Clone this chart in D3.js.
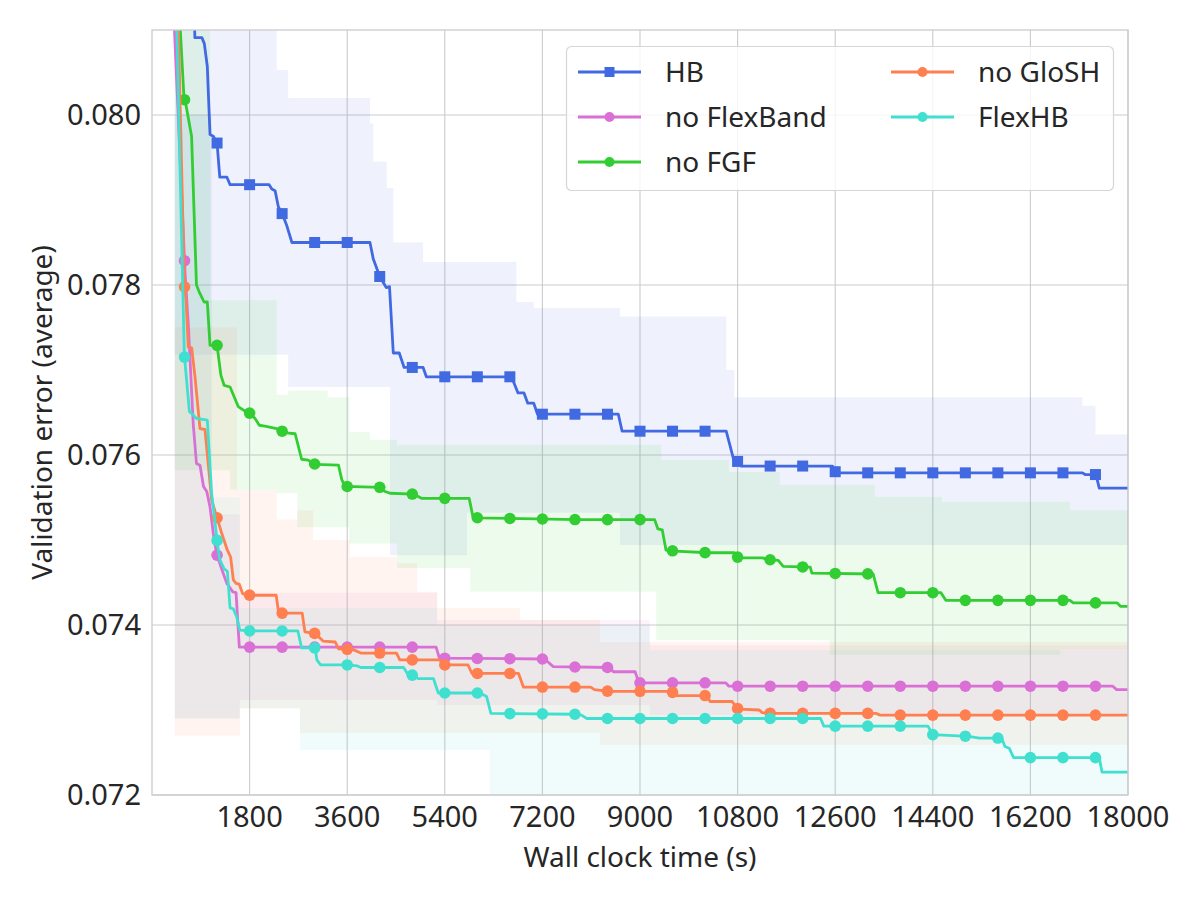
<!DOCTYPE html>
<html>
<head>
<meta charset="utf-8">
<script src="https://cdn.jsdelivr.net/npm/d3@7"></script>
<style>
  body { margin: 0; background: #fff; }
  text { font-family: 'Noto Sans', 'Liberation Sans', sans-serif; fill: #262626; }
</style>
</head>
<body>
<div id="chart"></div>
<script>
/* series names, colours and marker shapes, in legend order */
const seriesNames = ['HB', 'no FlexBand', 'no FGF', 'no GloSH', 'FlexHB'];
const seriesColors = ['#4169E1', '#DA70D6', '#32CD32', '#FF7F50', '#40E0D0'];
const seriesShapes = ['square', 'circle', 'circle', 'circle', 'circle'];

/* axis ticks */
const xTicks = [1800, 3600, 5400, 7200, 9000, 10800, 12600, 14400, 16200, 18000];
const yTicks = [0.072, 0.074, 0.076, 0.078, 0.080];

/* times (s) where markers are drawn */
const markTimes = [600, 1200, 1800, 2400, 3000, 3600, 4200, 4800, 5400, 6000, 6600, 7200, 7800, 8400, 9000,
  9600, 10200, 10800, 11400, 12000, 12600, 13200, 13800, 14400, 15000, 15600, 16200, 16800, 17400];

/* mean validation error curves: [time, value] */
const hbLine = [[700, 0.0840], [790, 0.08091], [920, 0.08091], [965, 0.08084], [1020, 0.08057], [1070, 0.07977],
  [1130, 0.07975], [1200, 0.07967], [1250, 0.07927], [1380, 0.07927], [1440, 0.07918], [2160, 0.07918],
  [2210, 0.07913], [2270, 0.07911], [2330, 0.07892], [2400, 0.07884], [2480, 0.07871], [2580, 0.07850],
  [4020, 0.07850], [4080, 0.07831], [4200, 0.07810], [4320, 0.07797], [4380, 0.07798], [4450, 0.07720],
  [4560, 0.07720], [4650, 0.07703], [5000, 0.07703], [5060, 0.07692], [6630, 0.07692], [6750, 0.07673],
  [6860, 0.07673], [6930, 0.07661], [7040, 0.07661], [7110, 0.07648], [8600, 0.07648], [8670, 0.07628],
  [10590, 0.07628], [10730, 0.07594], [10820, 0.07592], [10860, 0.07587], [12550, 0.07587], [12610, 0.07579],
  [17160, 0.07579], [17210, 0.07577], [17410, 0.07577], [17470, 0.07561], [18000, 0.07561]];

const flexBandLine = [[380, 0.0815], [610, 0.07814], [670, 0.07753], [760, 0.07637], [820, 0.07590], [885, 0.07588],
  [950, 0.07563], [1010, 0.07557], [1070, 0.07539], [1130, 0.07508], [1190, 0.07484], [1290, 0.07465],
  [1380, 0.07449], [1490, 0.07439], [1550, 0.07438], [1610, 0.07374], [5240, 0.07374], [5300, 0.07361],
  [7240, 0.07360], [7400, 0.07351], [8440, 0.07350], [8510, 0.07345], [8910, 0.07345], [8980, 0.07332],
  [10580, 0.07332], [10640, 0.07328], [17720, 0.07328], [17790, 0.07324], [18000, 0.07324]];

const fgfLine = [[480, 0.0815], [590, 0.08020], [620, 0.08014], [730, 0.07975], [820, 0.07800], [870, 0.07792],
  [960, 0.07780], [1020, 0.07780], [1070, 0.07729], [1200, 0.07729], [1270, 0.07694], [1330, 0.07682],
  [1440, 0.07680], [1590, 0.07657], [1680, 0.07653], [1810, 0.07649], [1900, 0.07643], [1980, 0.07635],
  [2080, 0.07634], [2300, 0.07631], [2400, 0.07628], [2480, 0.07626], [2640, 0.07625], [2760, 0.07595],
  [2880, 0.07594], [3010, 0.07589], [3440, 0.07588], [3500, 0.07571], [3560, 0.07563], [4200, 0.07562],
  [4300, 0.07557], [4390, 0.07555], [4820, 0.07554], [4970, 0.07549], [5850, 0.07549], [5920, 0.07527],
  [6020, 0.07526], [7830, 0.07524], [9270, 0.07524], [9330, 0.07513], [9410, 0.07512], [9480, 0.07488],
  [9650, 0.07487], [10250, 0.07485], [10740, 0.07485], [10810, 0.07479], [11260, 0.07479], [11360, 0.07477],
  [11550, 0.07476], [11640, 0.07469], [12140, 0.07468], [12170, 0.07461], [13300, 0.07460], [13390, 0.07438],
  [14550, 0.07438], [14640, 0.07429], [16930, 0.07429], [16990, 0.07426], [17800, 0.07426], [17860, 0.07422],
  [18000, 0.07422]];

const gloshLine = [[470, 0.0815], [596, 0.07800], [627, 0.07782], [670, 0.07727], [732, 0.07726], [793, 0.07692],
  [885, 0.07631], [977, 0.07630], [1100, 0.07547], [1210, 0.07524], [1285, 0.07508], [1390, 0.07488],
  [1450, 0.07480], [1500, 0.07453], [1550, 0.07449], [1610, 0.07448], [1670, 0.07437], [1810, 0.07435],
  [2290, 0.07435], [2330, 0.07417], [2400, 0.07414], [2770, 0.07414], [2820, 0.07392], [3010, 0.07390],
  [3160, 0.07381], [3380, 0.07380], [3440, 0.07372], [3710, 0.07371], [3850, 0.07367], [4510, 0.07367],
  [4570, 0.07359], [5310, 0.07359], [5370, 0.07353], [5830, 0.07353], [5900, 0.07343], [6760, 0.07343],
  [6850, 0.07327], [8090, 0.07327], [8160, 0.07324], [8430, 0.07322], [9590, 0.07322], [9630, 0.07317],
  [10240, 0.07317], [10290, 0.07310], [10700, 0.07310], [10790, 0.07302], [10840, 0.07301], [11200, 0.07300],
  [11250, 0.07297], [11440, 0.07296], [13350, 0.07296], [13430, 0.07294], [18000, 0.07294]];

const flexHBLine = [[440, 0.0815], [596, 0.07718], [690, 0.07651], [730, 0.07649], [820, 0.07643], [1020, 0.07641],
  [1060, 0.07598], [1100, 0.07555], [1210, 0.07494], [1250, 0.07477], [1330, 0.07466], [1390, 0.07463],
  [1440, 0.07420], [1500, 0.07419], [1560, 0.07410], [1620, 0.07394], [1810, 0.07393], [2690, 0.07393],
  [2760, 0.07373], [3010, 0.07373], [3040, 0.07359], [3110, 0.07353], [3610, 0.07353], [3780, 0.07352],
  [3850, 0.07350], [4640, 0.07350], [4730, 0.07341], [4820, 0.07341], [4910, 0.07337], [5190, 0.07337],
  [5280, 0.07320], [6050, 0.07320], [6170, 0.07316], [6250, 0.07296], [7820, 0.07295], [7920, 0.07294],
  [8020, 0.07290], [12330, 0.07290], [12390, 0.07281], [14310, 0.07281], [14400, 0.07271], [15060, 0.07269],
  [15260, 0.07267], [15670, 0.07267], [15730, 0.07257], [15810, 0.07255], [15890, 0.07244], [17470, 0.07244],
  [17520, 0.07227], [18000, 0.07227]];

/* spread bands (mean +/- std), stepped: [time, lower, upper] */
const hbBand = [[420, 0.07718, 0.0830], [2300, 0.07718, 0.08053], [2510, 0.07680, 0.08020], [4020, 0.07680, 0.07990],
  [4080, 0.07680, 0.07945], [4330, 0.07680, 0.07914], [4390, 0.07482, 0.07914], [4450, 0.07482, 0.07850],
  [5000, 0.07482, 0.07827], [5810, 0.07532, 0.07827], [6720, 0.07532, 0.07780], [7040, 0.07532, 0.07773],
  [8630, 0.07494, 0.07763], [10590, 0.07494, 0.07700], [10740, 0.07494, 0.07668], [17160, 0.07494, 0.07658],
  [17400, 0.07494, 0.07624], [18000, 0.07494, 0.07624]];

const flexBandBand = [[420, 0.07290, 0.0800], [1100, 0.07290, 0.07530], [1620, 0.07312, 0.07438],
  [5260, 0.07306, 0.07406], [9180, 0.07294, 0.07376], [18000, 0.07294, 0.07376]];

const fgfBand = [[420, 0.07582, 0.0830], [1070, 0.07582, 0.07782], [1440, 0.07559, 0.07782], [2300, 0.07555, 0.07671],
  [2510, 0.07555, 0.07676], [2680, 0.07515, 0.07676], [3240, 0.07515, 0.07668], [3640, 0.07496, 0.07627],
  [4020, 0.07496, 0.07618], [4520, 0.07467, 0.07612], [5870, 0.07439, 0.07612], [9300, 0.07382, 0.07612],
  [9390, 0.07382, 0.07594], [10640, 0.07382, 0.07580], [11580, 0.07382, 0.07565], [12500, 0.07365, 0.07565],
  [13330, 0.07365, 0.07551], [14570, 0.07365, 0.07545], [16750, 0.07371, 0.07545], [16930, 0.07371, 0.07535],
  [18000, 0.07371, 0.07535]];

const gloshBand = [[420, 0.07270, 0.07750], [1570, 0.07270, 0.07559], [1620, 0.07302, 0.07559], [2300, 0.07302, 0.07524],
  [2680, 0.07302, 0.07535], [2730, 0.07273, 0.07535], [2970, 0.07273, 0.07500], [3650, 0.07273, 0.07480],
  [4520, 0.07273, 0.07473], [4890, 0.07273, 0.07439], [5260, 0.07273, 0.07420], [6790, 0.07273, 0.07406],
  [8260, 0.07259, 0.07380], [18000, 0.07259, 0.07380]];

const flexHBBand = [[420, 0.07290, 0.0800], [1100, 0.07290, 0.07550], [1620, 0.07302, 0.07420], [2730, 0.07253, 0.07420],
  [5260, 0.07253, 0.07400], [6230, 0.07150, 0.07400], [9180, 0.07150, 0.07370], [18000, 0.07150, 0.07370]];

const allLines = [hbLine, flexBandLine, fgfLine, gloshLine, flexHBLine];
const allBands = [hbBand, flexBandBand, fgfBand, gloshBand, flexHBBand];

/* page and plot area */
const W = 1200;
const H = 900;
const plot = { left: 152, right: 1128, top: 30, bottom: 795 };

const svg = d3.select('#chart')
  .append('svg')
  .attr('width', W)
  .attr('height', H);

const x = d3.scaleLinear()
  .domain([0, 18000])
  .range([plot.left, plot.right]);
const y = d3.scaleLinear()
  .domain([0.072, 0.081])
  .range([plot.bottom, plot.top]);

svg.append('defs')
  .append('clipPath')
  .attr('id', 'plotClip')
  .append('rect')
  .attr('x', plot.left)
  .attr('y', plot.top)
  .attr('width', plot.right - plot.left)
  .attr('height', plot.bottom - plot.top);

/* grid lines */
svg.append('g')
  .selectAll('line')
  .data(xTicks)
  .enter()
  .append('line')
  .attr('x1', function (d) { return x(d); })
  .attr('x2', function (d) { return x(d); })
  .attr('y1', plot.top)
  .attr('y2', plot.bottom)
  .attr('stroke', '#cbcbcf')
  .attr('stroke-width', 1.1);
svg.append('g')
  .selectAll('line')
  .data(yTicks)
  .enter()
  .append('line')
  .attr('x1', plot.left)
  .attr('x2', plot.right)
  .attr('y1', function (d) { return y(d); })
  .attr('y2', function (d) { return y(d); })
  .attr('stroke', '#cbcbcf')
  .attr('stroke-width', 1.1);

const inner = svg.append('g').attr('clip-path', 'url(#plotClip)');

/* shaded bands */
const band = d3.area()
  .curve(d3.curveStepAfter)
  .x(function (d) { return x(d[0]); })
  .y0(function (d) { return y(d[1]); })
  .y1(function (d) { return y(d[2]); });

inner.selectAll('.band')
  .data(allBands)
  .enter()
  .append('path')
  .attr('class', 'band')
  .attr('d', band)
  .attr('fill', function (d, i) { return seriesColors[i]; })
  .attr('fill-opacity', 0.085)
  .attr('stroke', 'none');

/* curves with markers */
const line = d3.line()
  .x(function (d) { return x(d[0]); })
  .y(function (d) { return y(d[1]); });

allLines.forEach(function (pts, i) {
  const g = inner.append('g');
  g.append('path')
    .attr('d', line(pts))
    .attr('fill', 'none')
    .attr('stroke', seriesColors[i])
    .attr('stroke-width', 2.8)
    .attr('stroke-linejoin', 'round');
  /* piecewise scale along the curve gives the marker heights */
  const along = d3.scaleLinear()
    .domain(pts.map(function (p) { return p[0]; }))
    .range(pts.map(function (p) { return p[1]; }))
    .clamp(true);
  const marks = markTimes.filter(function (t) { return t >= pts[0][0]; });
  if (seriesShapes[i] === 'square') {
    g.selectAll('rect')
      .data(marks)
      .enter()
      .append('rect')
      .attr('x', function (t) { return x(t) - 5.5; })
      .attr('y', function (t) { return y(along(t)) - 5.5; })
      .attr('width', 11)
      .attr('height', 11)
      .attr('fill', seriesColors[i]);
  } else {
    g.selectAll('circle')
      .data(marks)
      .enter()
      .append('circle')
      .attr('cx', function (t) { return x(t); })
      .attr('cy', function (t) { return y(along(t)); })
      .attr('r', 5.8)
      .attr('fill', seriesColors[i]);
  }
});

/* frame */
svg.append('rect')
  .attr('x', plot.left)
  .attr('y', plot.top)
  .attr('width', plot.right - plot.left)
  .attr('height', plot.bottom - plot.top)
  .attr('fill', 'none')
  .attr('stroke', '#cbcbcf')
  .attr('stroke-width', 1.3);

/* tick labels */
svg.append('g')
  .selectAll('text')
  .data(xTicks)
  .enter()
  .append('text')
  .attr('x', function (d) { return x(d); })
  .attr('y', 827)
  .attr('text-anchor', 'middle')
  .style('font-size', '29px')
  .text(function (d) { return d; });
svg.append('g')
  .selectAll('text')
  .data(yTicks)
  .enter()
  .append('text')
  .attr('x', 141)
  .attr('y', function (d) { return y(d) + 10; })
  .attr('text-anchor', 'end')
  .style('font-size', '29px')
  .text(function (d) { return d3.format('.3f')(d); });

/* axis titles */
svg.append('text')
  .attr('x', (plot.left + plot.right) / 2)
  .attr('y', 867)
  .attr('text-anchor', 'middle')
  .style('font-size', '28px')
  .text('Wall clock time (s)');
svg.append('text')
  .attr('transform', 'translate(52,' + ((plot.top + plot.bottom) / 2) + ') rotate(-90)')
  .attr('text-anchor', 'middle')
  .style('font-size', '28px')
  .text('Validation error (average)');

/* legend */
const legend = svg.append('g');
legend.append('rect')
  .attr('x', 566.5)
  .attr('y', 46.5)
  .attr('width', 547)
  .attr('height', 144)
  .attr('rx', 5)
  .attr('fill', '#fff')
  .attr('fill-opacity', 0.8)
  .attr('stroke', '#d6d6d6')
  .attr('stroke-width', 1.2);

const legendPos = [[578, 72], [578, 117], [578, 162], [891, 72], [891, 117]];
seriesNames.forEach(function (name, i) {
  const lx = legendPos[i][0];
  const ly = legendPos[i][1];
  const item = legend.append('g');
  item.append('line')
    .attr('x1', lx)
    .attr('x2', lx + 63)
    .attr('y1', ly)
    .attr('y2', ly)
    .attr('stroke', seriesColors[i])
    .attr('stroke-width', 2.8);
  if (seriesShapes[i] === 'square') {
    item.append('rect')
      .attr('x', lx + 31.5 - 5)
      .attr('y', ly - 5)
      .attr('width', 10)
      .attr('height', 10)
      .attr('fill', seriesColors[i]);
  } else {
    item.append('circle')
      .attr('cx', lx + 31.5)
      .attr('cy', ly)
      .attr('r', 5)
      .attr('fill', seriesColors[i]);
  }
  item.append('text')
    .attr('x', lx + 87)
    .attr('y', ly + 10)
    .style('font-size', '28px')
    .text(name);
});
</script>
</body>
</html>
